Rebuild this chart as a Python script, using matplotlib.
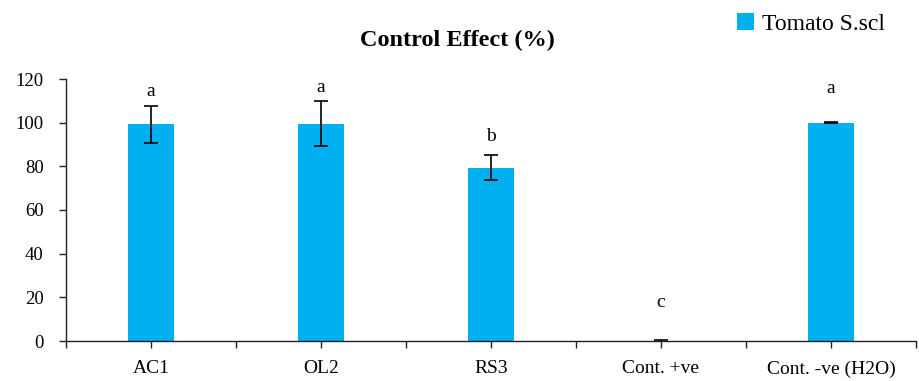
import numpy as np
import matplotlib.pyplot as plt

# data
categories = ["AC1", "OL2", "RS3", "Cont. +ve", "Cont. -ve (H2O)"]
effect = [99.2, 99.5, 79.3, 0.0, 100.0]
errors = [8.5, 10.4, 5.7, 0.3, 0.3]
letters = ["a", "a", "b", "c", "a"]
# baseline height (in % units) of the significance letters, as placed in the chart
letter_y = [112.3, 114.0, 91.6, 15.6, 113.6]

plt.rcParams["font.family"] = ["Liberation Serif", "DejaVu Serif"]

fig = plt.figure(figsize=(9.19, 3.81), dpi=100)
ax = fig.add_axes([66 / 919, 1 - 341 / 381, 850 / 919, 262 / 381])

x = np.arange(len(categories))
ax.bar(x, effect, width=0.276, color="#00B0F0", label="Tomato S.scl",
       yerr=errors, error_kw=dict(ecolor="black", elinewidth=1.2, capsize=5, capthick=1.2))

for xi, ly, lab in zip(x, letter_y, letters):
    ax.text(xi, ly, lab, ha="center", va="baseline", fontsize=14)

ax.set_xlim(-0.5, len(categories) - 0.5)
ax.set_ylim(0, 120)
ax.set_yticks(range(0, 121, 20))
ax.set_xticks(x)
ax.set_xticklabels(categories)
ax.set_xticks(np.arange(-0.5, len(categories), 1.0), minor=True)
ax.tick_params(axis="both", length=5, width=1, color="#222222")
ax.tick_params(axis="x", which="minor", length=5, width=1, color="#222222")
ax.tick_params(axis="x", labelsize=14, pad=9)
ax.tick_params(axis="y", labelsize=13.5, pad=11)
for s in ["top", "right"]:
    ax.spines[s].set_visible(False)
for s in ["left", "bottom"]:
    ax.spines[s].set_color("#222222")
    ax.spines[s].set_linewidth(1)

fig.text(457 / 919, 1 - 40 / 381, "Control Effect (%)", ha="center", va="center",
         fontsize=17.5, fontweight="bold")
fig.legend(loc="center", bbox_to_anchor=(811 / 919, 1 - 24 / 381), frameon=False,
           fontsize=17, handlelength=0.7, handleheight=0.7, handletextpad=0.35)

fig.savefig("out.png", dpi=100)
